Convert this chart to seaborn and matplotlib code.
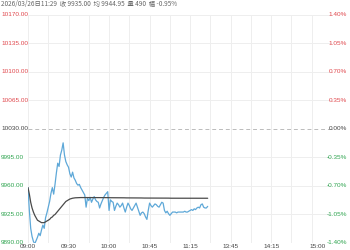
import matplotlib
matplotlib.use("Agg")
import matplotlib.pyplot as plt
import matplotlib.transforms as mtransforms
import numpy as np
import pandas as pd
import seaborn as sns

# ---- data ----
price = [
    9958, 9930, 9908, 9898, 9892, 9889, 9893, 9897, 9902, 9899,
    9906, 9912, 9908, 9921, 9927, 9934, 9941, 9951, 9958, 9950,
    9962, 9976, 9988, 9984, 9998, 10004, 10013, 9998, 9990, 9986,
    9983, 9975, 9971, 9977, 9970, 9967, 9963, 9961, 9962, 9958,
    9955, 9952, 9949, 9934, 9945, 9942, 9946, 9940, 9944, 9947,
    9943, 9941, 9940, 9933, 9938, 9942, 9946, 9949, 9951, 9953,
    9930, 9943, 9941, 9940, 9930, 9935, 9939, 9937, 9934, 9936,
    9939, 9933, 9928, 9934, 9939, 9936, 9932, 9930, 9933, 9936,
    9939, 9934, 9929, 9924, 9927, 9928, 9926, 9922, 9919, 9930,
    9939, 9936, 9934, 9936, 9938, 9937, 9935, 9934, 9937, 9940,
    9939, 9930, 9927, 9929, 9926, 9924, 9926, 9928, 9928, 9928,
    9927, 9928, 9928, 9928, 9928, 9928, 9929, 9928, 9928, 9929,
    9930, 9931, 9930, 9932, 9931, 9933, 9934, 9933, 9937, 9938,
    9934, 9933, 9933, 9935,
]
avg_price = [
    9958, 9950, 9940, 9933, 9928, 9924, 9921, 9918, 9917, 9916,
    9915, 9915, 9915, 9916, 9917, 9918, 9919, 9921, 9922, 9924,
    9925, 9927, 9929, 9931, 9933, 9935, 9937, 9939, 9941, 9942,
    9943, 9944, 9944.5, 9945, 9945.3, 9945.5, 9945.6, 9945.7, 9945.8, 9945.8,
    9945.8, 9945.8, 9945.7, 9945.7, 9945.7, 9945.7, 9945.7, 9945.7, 9945.7, 9945.7,
    9945.7, 9945.7, 9945.7, 9945.7, 9945.7, 9945.7, 9945.7, 9945.7, 9945.7, 9945.7,
    9945.6, 9945.6, 9945.6, 9945.6, 9945.6, 9945.5, 9945.5, 9945.5, 9945.5, 9945.5,
    9945.5, 9945.5, 9945.4, 9945.4, 9945.4, 9945.4, 9945.4, 9945.4, 9945.4, 9945.3,
    9945.3, 9945.3, 9945.3, 9945.3, 9945.3, 9945.2, 9945.2, 9945.2, 9945.2, 9945.2,
    9945.2, 9945.2, 9945.2, 9945.2, 9945.1, 9945.1, 9945.1, 9945.1, 9945.1, 9945.1,
    9945.1, 9945.1, 9945.1, 9945.1, 9945.1, 9945.0, 9945.0, 9945.0, 9945.0, 9945.0,
    9945.0, 9945.0, 9945.0, 9945.0, 9945.0, 9945.0, 9945.0, 9945.0, 9945.0, 9945.0,
    9945.0, 9945.0, 9945.0, 9945.0, 9945.0, 9945.0, 9945.0, 9945.0, 9945.0, 9945.0,
    9945.0, 9945.0, 9945.0, 9944.95,
]
prev_close = 10030.0
price_levels = [9890, 9925, 9960, 9995, 10030, 10065, 10100, 10135, 10170]
price_labels = ["9890.00", "9925.00", "9960.00", "9995.00", "10030.00",
                "10065.00", "10100.00", "10135.00", "10170.00"]
pct_labels = ["-1.40%", "-1.05%", "-0.70%", "-0.35%", "0.00%",
              "0.35%", "0.70%", "1.05%", "1.40%"]
time_tick_pos = [0, 30, 60, 90, 120, 150, 180, 214]
time_tick_labels = ["09:00", "09:30", "10:00", "10:45", "11:15", "13:45", "14:15", "15:00"]
total_minutes = 225
header = "2026/03/26日11:29  收 9935.00  均 9944.95  量 490  幅 -0.95%"

# ---- figure ----
sns.set_style("white")
plt.rcParams["font.family"] = ["Liberation Sans", "Noto Sans CJK SC", "DejaVu Sans"]

fig = plt.figure(figsize=(3.5, 2.5), dpi=100)
ax = fig.add_axes([28 / 350, 7 / 250, 304 / 350, 228 / 250])

df = pd.DataFrame({"idx": np.arange(len(price)), "price": price, "avg": avg_price})

# grid
for xv in range(0, total_minutes + 1, 15):
    ax.axvline(xv, color="#eeeeee", lw=0.7, zorder=0)
for lv in price_levels:
    if lv == prev_close:
        ax.axhline(lv, color="#bbbbbb", lw=0.7, ls=(0, (4, 3)), zorder=0)
    else:
        ax.axhline(lv, color="#eeeeee", lw=0.7, zorder=0)

sns.lineplot(data=df, x="idx", y="price", ax=ax, color="#5ea8d8", lw=0.9, zorder=3)
sns.lineplot(data=df, x="idx", y="avg", ax=ax, color="#4a4a4a", lw=0.9, zorder=4)

ax.set_xlim(0, total_minutes)
ax.set_ylim(price_levels[0], price_levels[-1])
ax.set_xlabel("")
ax.set_ylabel("")
for s in ax.spines.values():
    s.set_visible(False)

ax.set_xticks(time_tick_pos)
ax.set_xticklabels(time_tick_labels, fontsize=4.6, color="#444444")
ax.tick_params(axis="x", length=0, pad=1)
ax.set_yticks([])

def lvl_color(lv):
    if lv > prev_close:
        return "#e0474c"
    if lv < prev_close:
        return "#2ea44f"
    return "#444444"

tl = mtransforms.blended_transform_factory(fig.transFigure, ax.transData)
for lv, pl, pc in zip(price_levels, price_labels, pct_labels):
    c = lvl_color(lv)
    ax.text(1 / 350, lv, pl, transform=tl, ha="left", va="center",
            fontsize=4.6, color=c, clip_on=False)
    ax.text(347 / 350, lv, pc, transform=tl, ha="right", va="center",
            fontsize=4.6, color=c, clip_on=False)

fig.text(1 / 350, 1.0, header, ha="left", va="top", fontsize=4.6, color="#666666",
         family=["Noto Sans CJK SC", "DejaVu Sans"])

fig.savefig("out.png", dpi=100)
